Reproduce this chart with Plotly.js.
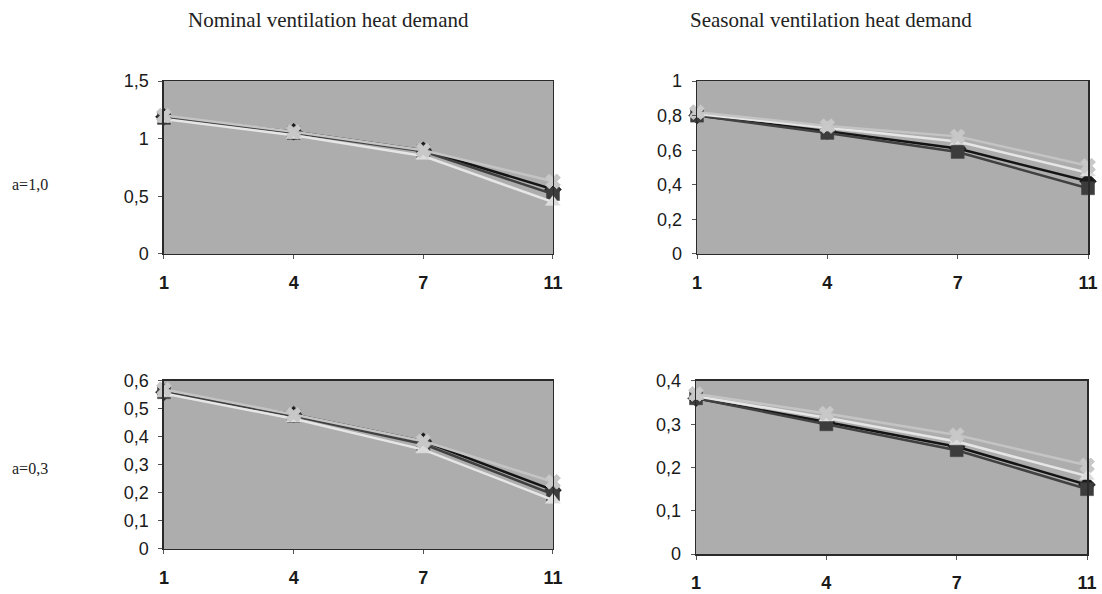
<!DOCTYPE html>
<html><head><meta charset="utf-8">
<script src="https://cdn.plot.ly/plotly-3.0.1.min.js"></script>
<style>body{margin:0;background:#fff}#c{width:1102px;height:594px}</style>
</head><body><div id="c"></div>
<script>
const categories = ['1', '4', '7', '11'];

// Nominal ventilation heat demand, a=1,0
const nomA10_s1 = [1.19, 1.06, 0.90, 0.56];
const nomA10_s2 = [1.18, 1.05, 0.89, 0.52];
const nomA10_s3 = [1.17, 1.03, 0.85, 0.45];
const nomA10_s4 = [1.20, 1.06, 0.90, 0.63];
// Seasonal ventilation heat demand, a=1,0
const seaA10_s1 = [0.80, 0.71, 0.61, 0.42];
const seaA10_s2 = [0.80, 0.70, 0.59, 0.38];
const seaA10_s3 = [0.81, 0.73, 0.65, 0.47];
const seaA10_s4 = [0.82, 0.74, 0.68, 0.51];
// Nominal, a=0,3
const nomA03_s1 = [0.56, 0.48, 0.385, 0.21];
const nomA03_s2 = [0.56, 0.475, 0.375, 0.195];
const nomA03_s3 = [0.555, 0.465, 0.355, 0.175];
const nomA03_s4 = [0.57, 0.48, 0.385, 0.24];
// Seasonal, a=0,3
const seaA03_s1 = [0.36, 0.305, 0.248, 0.16];
const seaA03_s2 = [0.36, 0.30, 0.24, 0.15];
const seaA03_s3 = [0.365, 0.315, 0.26, 0.18];
const seaA03_s4 = [0.37, 0.325, 0.275, 0.205];

const colTitles = ['Nominal ventilation heat demand', 'Seasonal ventilation heat demand'];
const rowLabels = ['a=1,0', 'a=0,3'];

const yTicksTL = [0, 0.5, 1, 1.5];
const yTicksTR = [0, 0.2, 0.4, 0.6, 0.8, 1];
const yTicksBL = [0, 0.1, 0.2, 0.3, 0.4, 0.5, 0.6];
const yTicksBR = [0, 0.1, 0.2, 0.3, 0.4];

const styles = [
  {color: '#141414', symbol: 'diamond', mcolor: '#1a1a1a'},
  {color: '#404040', symbol: 'square', mcolor: '#3c3c3c'},
  {color: '#e6e6e6', symbol: 'triangle-up', mcolor: '#dcdcdc'},
  {color: '#c4c4c4', symbol: 'x', mcolor: '#c8c8c8'}
];

const xi = categories.map((c, i) => i);
const traces = [];
function addPanel(series, xa, ya) {
  series.forEach((s, k) => {
    traces.push({
      x: xi, y: s, xaxis: xa, yaxis: ya, type: 'scatter', mode: 'lines+markers',
      cliponaxis: false, showlegend: false,
      line: {color: styles[k].color, width: 2.5},
      marker: {symbol: styles[k].symbol, size: 13, color: styles[k].mcolor,
               line: {color: styles[k].color, width: k === 3 ? 1 : 0.5}}
    });
  });
}
addPanel([nomA10_s1, nomA10_s2, nomA10_s3, nomA10_s4], 'x', 'y');
addPanel([seaA10_s1, seaA10_s2, seaA10_s3, seaA10_s4], 'x2', 'y2');
addPanel([nomA03_s1, nomA03_s2, nomA03_s3, nomA03_s4], 'x3', 'y3');
addPanel([seaA03_s1, seaA03_s2, seaA03_s3, seaA03_s4], 'x4', 'y4');

const fmt = v => String(v).replace('.', ',');
function xaxis(dom, anchor) {
  return {domain: dom, anchor: anchor, range: [0, 3], tickvals: xi, ticktext: categories,
    showgrid: false, zeroline: false, showline: true, mirror: true, linecolor: '#2a2a2a', linewidth: 1.5,
    ticks: 'outside', ticklen: 4, tickcolor: '#555', fixedrange: true, ticklabelstandoff: 8,
    tickfont: {family: 'Arial, Liberation Sans, sans-serif', size: 18, color: '#1a1a1a', weight: 'bold'}};
}
function yaxis(dom, anchor, ticks) {
  return {domain: dom, anchor: anchor, range: [0, ticks[ticks.length - 1]], tickvals: ticks,
    ticktext: ticks.map(fmt), showgrid: false, zeroline: false, showline: true, mirror: true,
    linecolor: '#2a2a2a', linewidth: 1.5, ticks: 'outside', ticklen: 4, tickcolor: '#555',
    fixedrange: true, ticklabelstandoff: 6,
    tickfont: {family: 'Arial, Liberation Sans, sans-serif', size: 18, color: '#1a1a1a'}};
}
const bg = '#adadad';
const serif = 'Liberation Serif, Times New Roman, serif';
const layout = {
  width: 1102, height: 594, margin: {l: 0, r: 0, t: 0, b: 0},
  paper_bgcolor: '#fff', plot_bgcolor: bg,
  xaxis: xaxis([0.1488, 0.5018], 'y'), yaxis: yaxis([0.5724, 0.8636], 'x', yTicksTL),
  xaxis2: xaxis([0.6325, 0.9873], 'y2'), yaxis2: yaxis([0.5724, 0.8636], 'x2', yTicksTR),
  xaxis3: xaxis([0.1488, 0.5018], 'y3'), yaxis3: yaxis([0.0758, 0.3586], 'x3', yTicksBL),
  xaxis4: xaxis([0.6316, 0.9864], 'y4'), yaxis4: yaxis([0.0673, 0.3586], 'x4', yTicksBR),
  annotations: [
    {text: colTitles[0], x: 328 / 1102, y: 1 - 20 / 594, xref: 'paper', yref: 'paper', xanchor: 'center', yanchor: 'middle',
     showarrow: false, font: {family: serif, size: 21, color: '#222'}},
    {text: colTitles[1], x: 831 / 1102, y: 1 - 20 / 594, xref: 'paper', yref: 'paper', xanchor: 'center', yanchor: 'middle',
     showarrow: false, font: {family: serif, size: 21, color: '#222'}},
    {text: rowLabels[0], x: 10 / 1102, y: 1 - 185 / 594, xref: 'paper', yref: 'paper', xanchor: 'left', yanchor: 'middle',
     showarrow: false, font: {family: serif, size: 16, color: '#222'}},
    {text: rowLabels[1], x: 10 / 1102, y: 1 - 468 / 594, xref: 'paper', yref: 'paper', xanchor: 'left', yanchor: 'middle',
     showarrow: false, font: {family: serif, size: 16, color: '#222'}}
  ]
};
Plotly.newPlot('c', traces, layout, {staticPlot: true});
</script></body></html>
